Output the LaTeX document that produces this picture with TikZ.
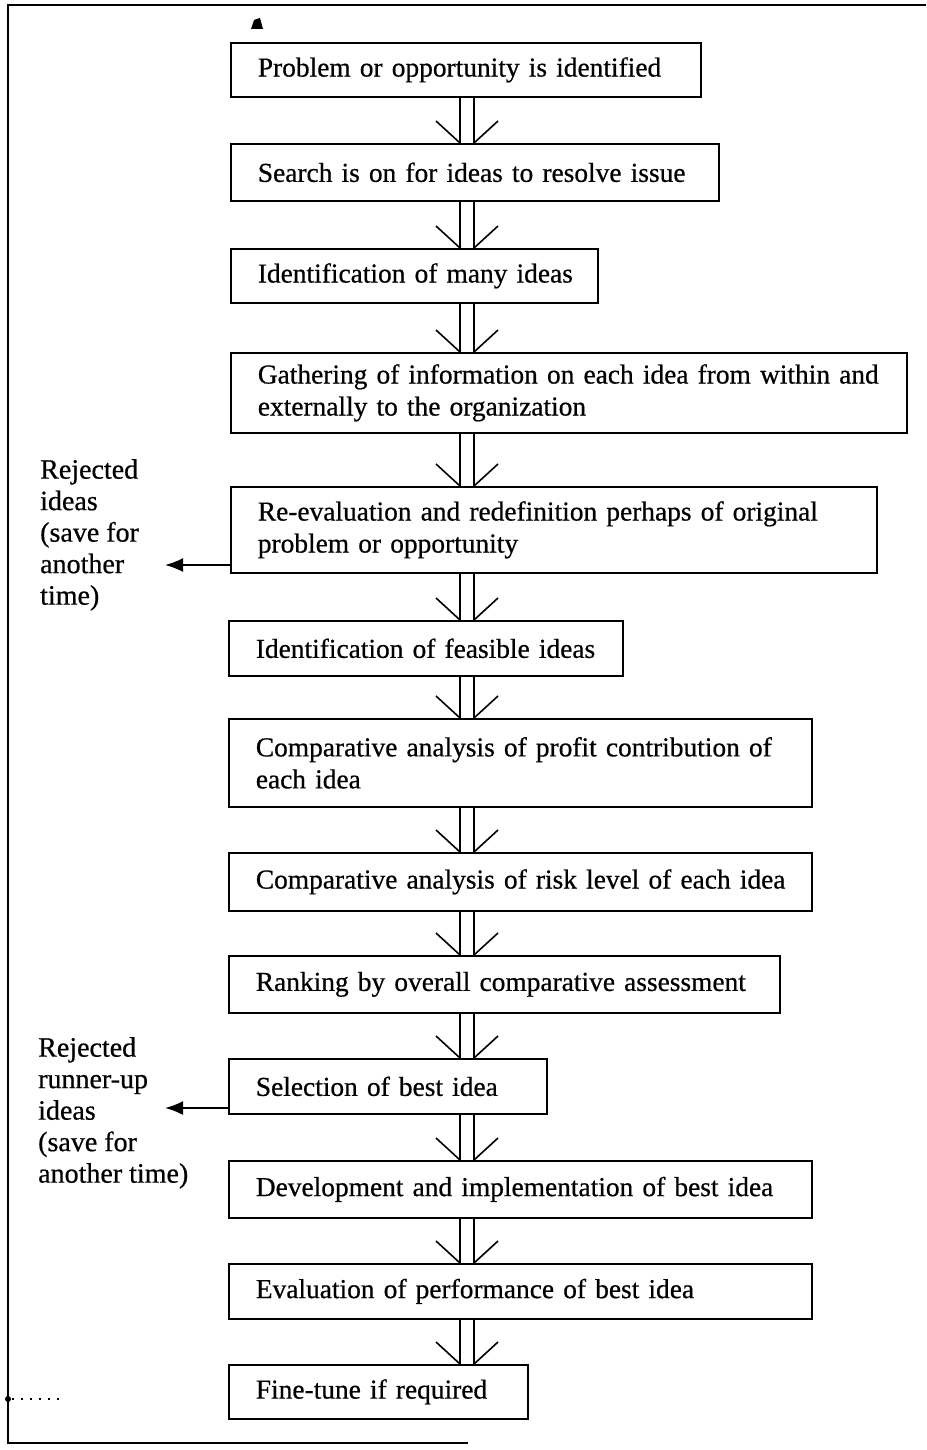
\documentclass[tikz,border=0pt]{standalone}
\usepackage{fontspec}
\setmainfont{Liberation Serif}[FakeBold=0.6]
\usetikzlibrary{calc,arrows.meta}
\newcommand{\flowconn}[2]{%
  \draw[flowline] ($(spine|-#1.south)+(-7pt,0)$) -- ($(spine|-#2.north)+(-7pt,0)$);
  \draw[flowline] ($(spine|-#1.south)+(7pt,0)$) -- ($(spine|-#2.north)+(7pt,0)$);
  \draw[flowline] ($(spine|-#2.north)+(-31pt,22pt)$) -- ($(spine|-#2.north)+(-7pt,0)$);
  \draw[flowline] ($(spine|-#2.north)+(31pt,22pt)$) -- ($(spine|-#2.north)+(7pt,0)$);
}
\begin{document}
\begin{tikzpicture}[x=1pt,y=-1pt,
  box/.style={draw, line width=1.7pt, anchor=north west, inner xsep=27pt, inner ysep=0pt,
    align=left, font=\fontsize{27.4}{32}\selectfont},
  flowline/.style={line width=1.6pt},
  sidearrow/.style={line width=1.8pt, -{Latex[length=18pt,width=14pt]}},
  framel/.style={line width=2.6pt},
  rejlabel/.style={anchor=north west, inner sep=0pt, align=left,
    font=\fontsize{28}{31.5}\selectfont}]
\useasboundingbox (0,0) rectangle (926,1450);
\coordinate (spine) at (467,0);

\node[box, minimum width=470pt, text width=416pt, minimum height=54pt] (n1) at (230,42)
  {\mbox{Problem or opportunity is identified}};
\node[box, minimum width=488pt, text width=434pt, minimum height=57pt] (n2) at (230,143)
  {\mbox{Search is on for ideas to resolve issue}};
\node[box, minimum width=367pt, text width=313pt, minimum height=54pt] (n3) at (230,248)
  {\mbox{Identification of many ideas}};
\node[box, minimum width=676pt, text width=622pt, minimum height=80pt] (n4) at (230,352)
  {\mbox{Gathering of information on each idea from within and}\\\mbox{externally to the organization}};
\node[box, minimum width=646pt, text width=592pt, minimum height=86pt] (n5) at (230,486)
  {\mbox{Re-evaluation and redefinition perhaps of original}\\\mbox{problem or opportunity}};
\node[box, minimum width=394pt, text width=340pt, minimum height=55pt] (n6) at (228,620)
  {\mbox{Identification of feasible ideas}};
\node[box, minimum width=583pt, text width=529pt, minimum height=88pt] (n7) at (228,718)
  {\mbox{Comparative analysis of profit contribution of}\\\mbox{each idea}};
\node[box, minimum width=583pt, text width=529pt, minimum height=58pt] (n8) at (228,852)
  {\mbox{Comparative analysis of risk level of each idea}};
\node[box, minimum width=551pt, text width=497pt, minimum height=57pt] (n9) at (228,955)
  {\mbox{Ranking by overall comparative assessment}};
\node[box, minimum width=318pt, text width=264pt, minimum height=55pt] (n10) at (228,1058)
  {\mbox{Selection of best idea}};
\node[box, minimum width=583pt, text width=529pt, minimum height=57pt] (n11) at (228,1160)
  {\mbox{Development and implementation of best idea}};
\node[box, minimum width=583pt, text width=529pt, minimum height=55pt] (n12) at (228,1263)
  {\mbox{Evaluation of performance of best idea}};
\node[box, minimum width=299pt, text width=245pt, minimum height=54pt] (n13) at (228,1364)
  {\mbox{Fine-tune if required}};

\flowconn{n1}{n2}
\flowconn{n2}{n3}
\flowconn{n3}{n4}
\flowconn{n4}{n5}
\flowconn{n5}{n6}
\flowconn{n6}{n7}
\flowconn{n7}{n8}
\flowconn{n8}{n9}
\flowconn{n9}{n10}
\flowconn{n10}{n11}
\flowconn{n11}{n12}
\flowconn{n12}{n13}

\node[rejlabel] (rej1) at (40,459) {Rejected\\ideas\\(save for\\another\\time)};
\node[rejlabel] (rej2) at (38,1037) {Rejected\\runner-up\\ideas\\(save for\\another time)};
\coordinate (rej1tip) at (165,565);
\coordinate (rej2tip) at (165,1108);
\draw[sidearrow] (n5.west |- rej1tip) -- (rej1tip);
\draw[sidearrow] (n10.west |- rej2tip) -- (rej2tip);

\draw[framel] (468,1443) -- (8,1443) -- (8,5) -- (926,5);
\draw[line width=1.6pt, dash pattern=on 2pt off 7pt] (12,1399) -- (62,1399);
\fill (8,1399) circle (3pt);
\fill (251,29) -- (254,20) -- (260,18) -- (263,29) -- cycle;
\end{tikzpicture}
\end{document}
